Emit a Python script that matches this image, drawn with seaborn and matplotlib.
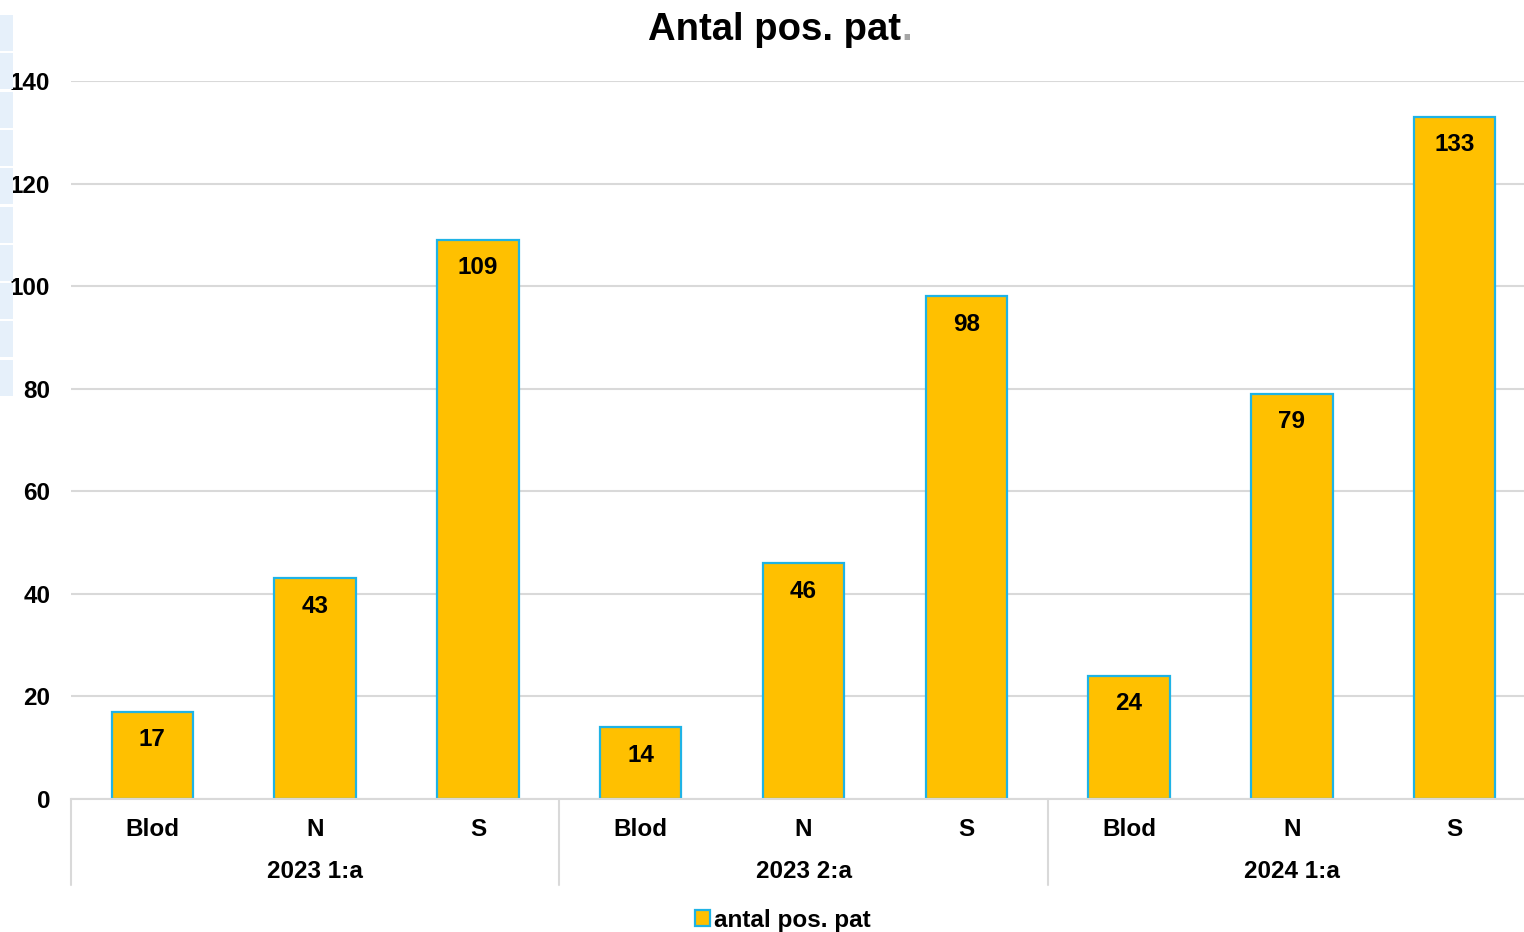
import numpy as np
import pandas as pd
import seaborn as sns
import matplotlib.pyplot as plt
from matplotlib.patches import Rectangle
from matplotlib.lines import Line2D

# data
periods = ["2023 1:a", "2023 2:a", "2024 1:a"]
sample_types = ["Blod", "N", "S"]
counts_2023_1 = [17, 43, 109]
counts_2023_2 = [14, 46, 98]
counts_2024_1 = [24, 79, 133]
yticks = [0, 20, 40, 60, 80, 100, 120, 140]

BAR = "#FFC000"
EDGE = "#1FB3E5"
GRID = "#D9D9D9"
FS = 17.5

sns.set_theme(style="white")
plt.rcParams["font.family"] = ["Liberation Sans", "DejaVu Sans"]
plt.rcParams["font.weight"] = "bold"
plt.rcParams["text.color"] = "black"
plt.rcParams["xtick.color"] = "black"
plt.rcParams["ytick.color"] = "black"

rows = []
for per, vals in zip(periods, [counts_2023_1, counts_2023_2, counts_2024_1]):
    for st, v in zip(sample_types, vals):
        rows.append({"pos": f"{per}|{st}", "period": per, "type": st, "count": v})
df = pd.DataFrame(rows)

fig = plt.figure(figsize=(15.24, 9.32), dpi=100)
ax = fig.add_axes([71 / 1524, 1 - 799 / 932, 1465 / 1524, (799 - 81) / 932])

sns.barplot(data=df, x="pos", y="count", color=BAR, width=0.5,
            edgecolor=EDGE, linewidth=1.6, saturation=1, ax=ax, zorder=3)

ax.set_ylim(0, 140)
ax.set_xlim(-0.5, len(df) - 0.5)
ax.set_yticks(yticks)
ax.set_yticklabels([str(t) for t in yticks], fontsize=FS, fontweight="bold")
ax.tick_params(axis="y", length=0, pad=15)
ax.yaxis.grid(True, color=GRID, linewidth=1.5, zorder=0)
ax.set_axisbelow(True)
for s in ["top", "right", "left"]:
    ax.spines[s].set_visible(False)
ax.spines["bottom"].set_color(GRID)
ax.spines["bottom"].set_linewidth(1.5)
ax.spines["bottom"].set_zorder(4)
ax.set_xlabel("")
ax.set_ylabel("")

# category labels
ax.set_xticks(range(len(df)))
ax.set_xticklabels(df["type"], fontsize=FS, fontweight="bold")
ax.tick_params(axis="x", length=0, pad=14)

# group labels and divider lines under the axis
for i, per in enumerate(periods):
    ax.annotate(per, xy=(3 * i + 1, 0), xycoords="data", xytext=(0, -72),
                textcoords="offset pixels", ha="center", va="center",
                fontsize=FS, fontweight="bold", annotation_clip=False)
for i in range(len(periods) + 1):
    x0 = 3 * i - 0.5
    ax.add_line(Line2D([x0, x0], [0, -16.7], color=GRID, linewidth=1.5,
                       clip_on=False))

# value labels inside the bars
for i, v in enumerate(df["count"]):
    ax.annotate(str(v), xy=(i, v), xytext=(0, -28), textcoords="offset pixels",
                ha="center", va="center", fontsize=FS, fontweight="bold",
                zorder=5)

# title, last dot grey
title = fig.text(648 / 1524, 1 - 40 / 932, "Antal pos. pat", ha="left",
                 va="baseline", fontsize=27.5, fontweight="bold")
fig.canvas.draw()
fig.text(0, 0, ".", transform=title.get_transform(), fontsize=27.5,
         fontweight="bold", color="#A6A6A6", ha="left", va="baseline")
bb = title.get_window_extent(renderer=fig.canvas.get_renderer())
fig.texts[-1].set_position((bb.x1 / 1524, 1 - 40 / 932))

# legend
handle = Rectangle((0, 0), 1, 1, facecolor=BAR, edgecolor=EDGE, linewidth=1.6)
fig.legend([handle], ["antal pos. pat"], loc="center",
           bbox_to_anchor=(783 / 1524, 1 - 920 / 932), frameon=False,
           fontsize=FS, handlelength=0.6, handleheight=0.6,
           handletextpad=0.2, borderaxespad=0)

# light blue sheet cells on the left edge
for k in range(10):
    y0 = 14 + k * 38.3
    fig.patches.append(Rectangle((0, 1 - (y0 + 37) / 932), 13 / 1524, 36 / 932,
                                 transform=fig.transFigure, facecolor="#E6F0FA",
                                 edgecolor="none", zorder=0))

fig.savefig("out.png", dpi=100)
